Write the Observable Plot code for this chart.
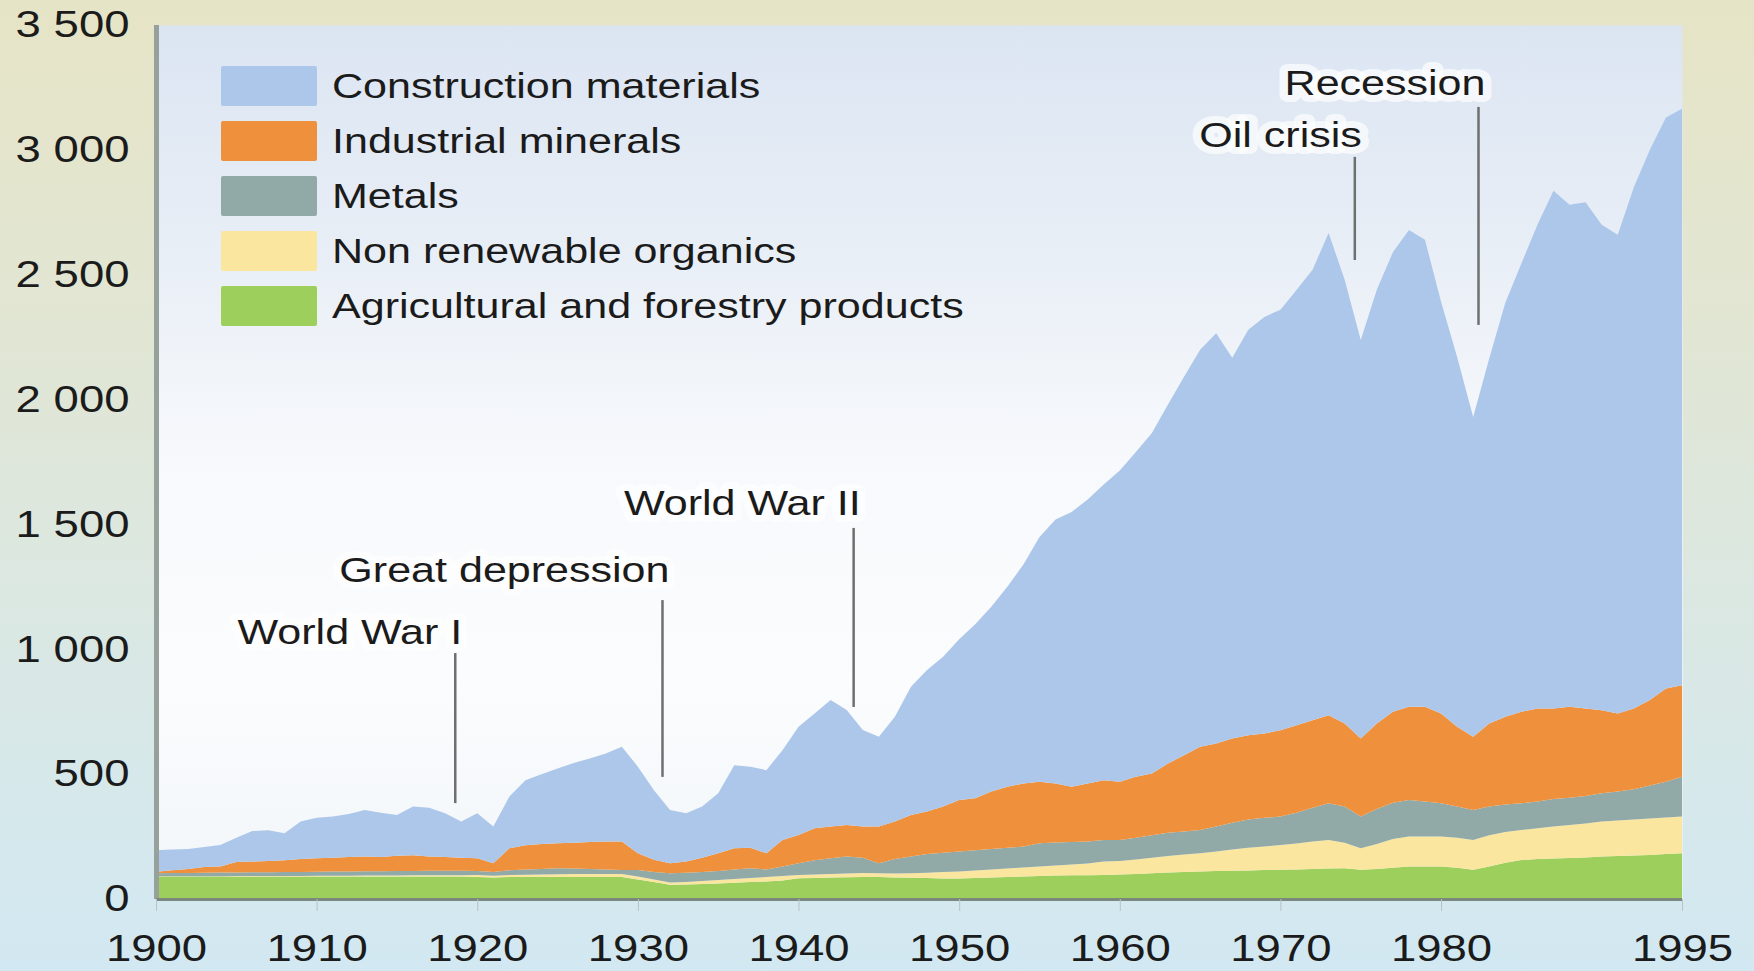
<!DOCTYPE html>
<html><head><meta charset="utf-8">
<script src="https://cdn.jsdelivr.net/npm/d3@7"></script>
<script src="https://cdn.jsdelivr.net/npm/@observablehq/plot@0.6"></script>
<style>
html,body{margin:0;padding:0;}
body{width:1754px;height:971px;overflow:hidden;background:linear-gradient(to bottom,#e6e4c6 0%,#e1e6d4 35%,#d9e8e6 70%,#d2e8f2 100%);font-family:"Liberation Sans",Arial,sans-serif;}
#wrap{position:relative;width:1754px;height:971px;}
#legend{position:absolute;left:221px;top:58px;}
.row{display:flex;align-items:center;height:55px;}
.sw{width:96px;height:40px;margin-right:15px;border-radius:2px;}
.lab{font-size:35px;color:#1b1b1b;transform:scaleX(1.23);transform-origin:left center;white-space:nowrap;}
</style></head><body><div id="wrap"></div>
<script>
// Years 1900–1995 (one value per year), million tonnes
const years = Array.from({length: 96}, (_, i) => 1900 + i);

const agriculture = [
 90,90,90,90,90,90,90,90,90,90,
 90,90,90,90,90,90,90,90,90,90,
 88,86,88,88,88,88,88,88,88,88,
 78,68,57,58,60,62,65,68,70,74,
 83,84,86,87,88,88,86,85,84,82,
 82,84,86,88,90,92,94,95,95,96,
 98,100,103,106,108,110,112,113,114,116,
 117,118,120,122,123,117,120,125,130,130,
 130,125,117,130,145,156,160,162,164,166,
 170,172,174,176,180,183];
const organics = [
 1,1,1,1,1,2,2,2,2,2,
 3,3,3,4,4,4,5,5,5,5,
 8,7,8,9,10,11,12,12,12,12,
 12,10,9,10,12,14,15,16,18,18,
 13,14,14,15,16,15,16,18,21,26,
 28,30,32,34,36,38,40,43,47,54,
 54,58,62,66,70,73,78,85,91,94,
 99,104,110,114,102,86,100,115,120,120,
 120,120,119,125,123,120,123,128,132,136,
 140,142,144,146,146,147];
const metals = [
 12,13,13,14,15,14,15,15,16,16,
 16,17,17,17,17,18,17,18,18,18,
 16,15,19,21,22,24,22,20,18,16,
 26,30,37,37,36,36,38,39,30,38,
 47,57,63,68,61,40,58,67,75,77,
 80,81,82,83,84,93,92,90,88,86,
 84,87,90,93,92,93,100,107,113,115,
 114,123,135,147,145,127,140,145,146,140,
 133,125,120,115,110,107,107,110,109,110,
 113,116,122,133,144,160];
const industrial = [
 6,11,16,23,24,42,43,45,47,52,
 54,55,58,59,57,61,63,57,55,52,
 51,35,88,97,100,100,103,108,112,114,
 67,49,40,45,57,71,85,82,65,106,
 113,128,127,126,125,147,150,166,170,185,
 206,208,230,245,253,247,237,222,233,240,
 234,245,248,278,306,334,333,338,338,338,
 346,351,351,353,333,313,343,365,374,380,
 360,320,294,333,352,367,373,363,365,351,
 333,313,323,342,373,366];
const construction = [
 86,83,80,80,86,97,122,123,108,150,
 162,165,172,186,177,163,195,195,175,145,
 180,147,207,261,280,300,320,335,353,380,
 347,279,213,193,205,240,333,325,333,360,
 434,460,507,461,387,360,420,514,567,600,
 644,697,740,800,877,980,1057,1100,1137,1184,
 1246,1300,1363,1437,1515,1590,1643,1524,1624,1668,
 1684,1743,1804,1931,1777,1596,1737,1840,1909,1870,
 1649,1480,1280,1461,1658,1795,1937,2073,2010,2027,
 1944,1917,2087,2203,2287,2309];

// stacking order, bottom to top
const categories = ["Agricultural and forestry products","Non renewable organics","Metals","Industrial minerals","Construction materials"];
const categoryColors = ["#9ccf5c","#fbe6a0","#91aaa8","#ef913c","#acc7ea"];
const legendOrder = ["Construction materials","Industrial minerals","Metals","Non renewable organics","Agricultural and forestry products"];

const xTicks = [1900,1910,1920,1930,1940,1950,1960,1970,1980,1995];
const yTicks = [0,500,1000,1500,2000,2500,3000,3500];

const eventNames = ["World War I","Great depression","World War II","Oil crisis","Recession"];
const eventYears = [1918.6,1931.5,1943.4,1974.6,1982.3];
const eventLineTop = [985,1197,1486,2972,3172];
const eventLineBottom = [384,489,769,2559,2299];
const eventLabelY = [1069,1318,1586,3060,3268];

const seriesValues = [agriculture, organics, metals, industrial, construction];
const table = categories.flatMap((c, k) => years.map((year, i) => ({year, category: c, value: seriesValues[k][i]})));
const events = eventNames.map((name, i) => ({name, year: eventYears[i], top: eventLineTop[i], bottom: eventLineBottom[i], labelY: eventLabelY[i]}));

const fmtY = d => d >= 1000 ? `${Math.floor(d/1000)} ${String(d%1000).padStart(3,"0")}` : String(d);

const chart = Plot.plot({
  width: 1754, height: 971,
  marginLeft: 156, marginRight: 72, marginTop: 25, marginBottom: 72,
  style: {background: "transparent", fontFamily: "'Liberation Sans', Arial, sans-serif", color: "#1b1b1b", overflow: "visible"},
  x: {domain: [1900, 1995], axis: null},
  y: {domain: [0, 3500], axis: null},
  color: {domain: categories, range: categoryColors},
  marks: [
    Plot.frame({fill: "url(#panelGrad)", stroke: null}),
    Plot.areaY(table, {x: "year", y: "value", fill: "category", z: "category", order: categories, curve: "linear"}),
    Plot.ruleX(events, {x: "year", y1: "bottom", y2: "top", stroke: "#6e7070", strokeWidth: 2.5}),
    Plot.text(events, {x: "year", y: "labelY", text: "name", textAnchor: "end", dx: 7, fontSize: 35, fill: "#1b1b1b", stroke: "white", strokeWidth: 14, strokeOpacity: 0.7, strokeLinejoin: "round"}),
    Plot.ruleX([1900], {stroke: "#97a19b", strokeWidth: 5}),
    Plot.ruleY([0], {stroke: "#7b887f", strokeWidth: 3}),
    Plot.axisY({ticks: yTicks, tickFormat: fmtY, tickSize: 0, tickPadding: 27, fontSize: 37, label: null}),
    Plot.axisX({ticks: xTicks, tickFormat: d => String(d), tickSize: 12, tickPadding: 23, fontSize: 37, stroke: "#b7c3c6", label: null})
  ]
});

// panel gradient
const ns = "http://www.w3.org/2000/svg";
const defs = document.createElementNS(ns, "defs");
const grad = document.createElementNS(ns, "linearGradient");
grad.setAttribute("id", "panelGrad");
grad.setAttribute("x1", "0"); grad.setAttribute("y1", "0"); grad.setAttribute("x2", "0"); grad.setAttribute("y2", "1");
[["0%","#dbe5f2"],["25%","#e8eef6"],["50%","#f7f9fc"],["75%","#fbfcfd"],["100%","#f1f6fa"]].forEach(([o,c]) => {
  const s = document.createElementNS(ns, "stop");
  s.setAttribute("offset", o); s.setAttribute("stop-color", c); grad.appendChild(s);
});
defs.appendChild(grad);
chart.insertBefore(defs, chart.firstChild);

// original artwork is horizontally stretched: widen every text
chart.querySelectorAll("text").forEach(t => {
  const tr = t.getAttribute("transform");
  if (tr) t.setAttribute("transform", tr + " scale(1.23,1)");
  else {
    const x = +t.getAttribute("x") || 0;
    t.setAttribute("x", x / 1.23);
    t.setAttribute("transform", "scale(1.23,1)");
  }
});

const wrap = document.getElementById("wrap");
wrap.appendChild(chart);

const legend = document.createElement("div");
legend.id = "legend";
legendOrder.forEach(name => {
  const row = document.createElement("div"); row.className = "row";
  const sw = document.createElement("div"); sw.className = "sw";
  sw.style.background = categoryColors[categories.indexOf(name)];
  const lab = document.createElement("span"); lab.className = "lab"; lab.textContent = name;
  row.appendChild(sw); row.appendChild(lab); legend.appendChild(row);
});
wrap.appendChild(legend);
</script></body></html>
